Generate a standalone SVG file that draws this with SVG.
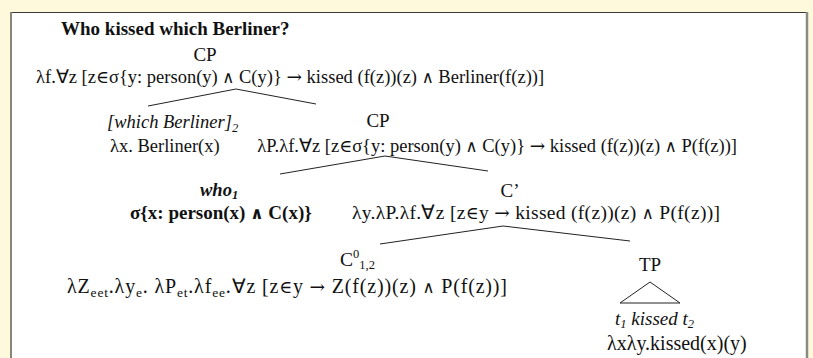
<svg xmlns="http://www.w3.org/2000/svg" width="813" height="358" viewBox="0 0 813 358">
<style>
text{font-family:"Liberation Serif","Times New Roman",serif;font-size:18.5px;fill:#111}
.t{font-weight:bold;font-size:19px}
.cat{font-size:19px;text-anchor:middle}
.i{font-style:italic}
.b{font-weight:bold}
.s{font-size:12.5px}
.s2{font-size:13.5px}
.m{font-family:"DejaVu Serif",serif;font-size:16.5px}
.n{font-family:"DejaVu Serif",serif;font-size:17.5px}
.a{font-family:"DejaVu Serif",serif;font-size:18.5px}
.e{text-anchor:end}
line,polyline,polygon{stroke:#222;stroke-width:1;fill:none}
</style>
<rect x="0" y="0" width="813" height="358" fill="#fef9dc"/>
<rect x="11.5" y="12.5" width="795" height="360" fill="#ffffff" stroke="#3a3a3a" stroke-width="1"/>
<line x1="11" y1="12" x2="11" y2="358" style="stroke:#85857a;stroke-width:2"/>
<line x1="807" y1="12" x2="807" y2="358" style="stroke:#8a8a82;stroke-width:2.5"/>
<text class="t" x="61" y="35">Who kissed which Berliner?</text>
<g id="cp1">
<text class="cat" x="205" y="61">CP</text>
<text x="36" y="83">λf.∀z [z<tspan class="n">∈</tspan>σ{y: person(y) <tspan class="m">∧</tspan> C(y)} <tspan class="a">→</tspan> kissed (f(z))(z) <tspan class="m">∧</tspan> Berliner(f(z))]</text>
</g>
<g id="wb">
<text class="i" x="107" y="128">[which Berliner]<tspan class="s" dy="4">2</tspan></text>
<text x="110" y="152">λx. Berliner(x)</text>
</g>
<g id="cp2">
<text class="cat" x="378" y="127">CP</text>
<text class="e" x="737" y="152">λP.λf.∀z [z<tspan class="n">∈</tspan>σ{y: person(y) <tspan class="m">∧</tspan> C(y)} <tspan class="a">→</tspan> kissed (f(z))(z) <tspan class="m">∧</tspan> P(f(z))]</text>
</g>
<g id="who">
<text class="i b" x="200" y="196">who<tspan class="s" dy="3">1</tspan></text>
<text class="b" x="130" y="219" style="font-size:19px">σ{x: person(x) <tspan class="m">∧</tspan> C(x)}</text>
</g>
<g id="cbar">
<text class="cat" x="510" y="197">C’</text>
<text x="352" y="219" style="font-size:19.5px" textLength="368" lengthAdjust="spacing">λy.λP.λf.∀z [z<tspan class="n">∈</tspan>y <tspan class="a">→</tspan> kissed (f(z))(z) <tspan class="m">∧</tspan> P(f(z))]</text>
</g>
<g id="c0">
<text x="340" y="266" style="font-size:19.5px">C<tspan class="s" dy="-8">0</tspan><tspan class="s" dy="11">1,2</tspan></text>
<text x="67" y="293" style="font-size:20px" textLength="440" lengthAdjust="spacing">λZ<tspan class="s2" dy="4">eet</tspan><tspan dy="-4">.λy</tspan><tspan class="s2" dy="4">e</tspan><tspan dy="-4">. λP</tspan><tspan class="s2" dy="4">et</tspan><tspan dy="-4">.λf</tspan><tspan class="s2" dy="4">ee</tspan><tspan dy="-4">.∀z [z</tspan><tspan class="n">∈</tspan>y <tspan class="a">→</tspan> Z(f(z))(z) <tspan class="m">∧</tspan> P(f(z))]</text>
</g>
<g id="tp">
<text class="cat" x="650" y="271">TP</text>
<polygon points="650,282 620,303 680,303"/>
<text class="i" x="615" y="325" style="font-size:19px">t<tspan class="s" dy="3">1</tspan><tspan dy="-3"> kissed t</tspan><tspan class="s" dy="3">2</tspan></text>
<text x="607" y="350" style="font-size:20px">λxλy.kissed(x)(y)</text>
</g>
<g id="connectors">
<polyline points="148,106 236,89 316,104"/>
<polyline points="280,174 385,156 488,171"/>
<polyline points="380,244 503,226 630,241"/>
</g>
</svg>
